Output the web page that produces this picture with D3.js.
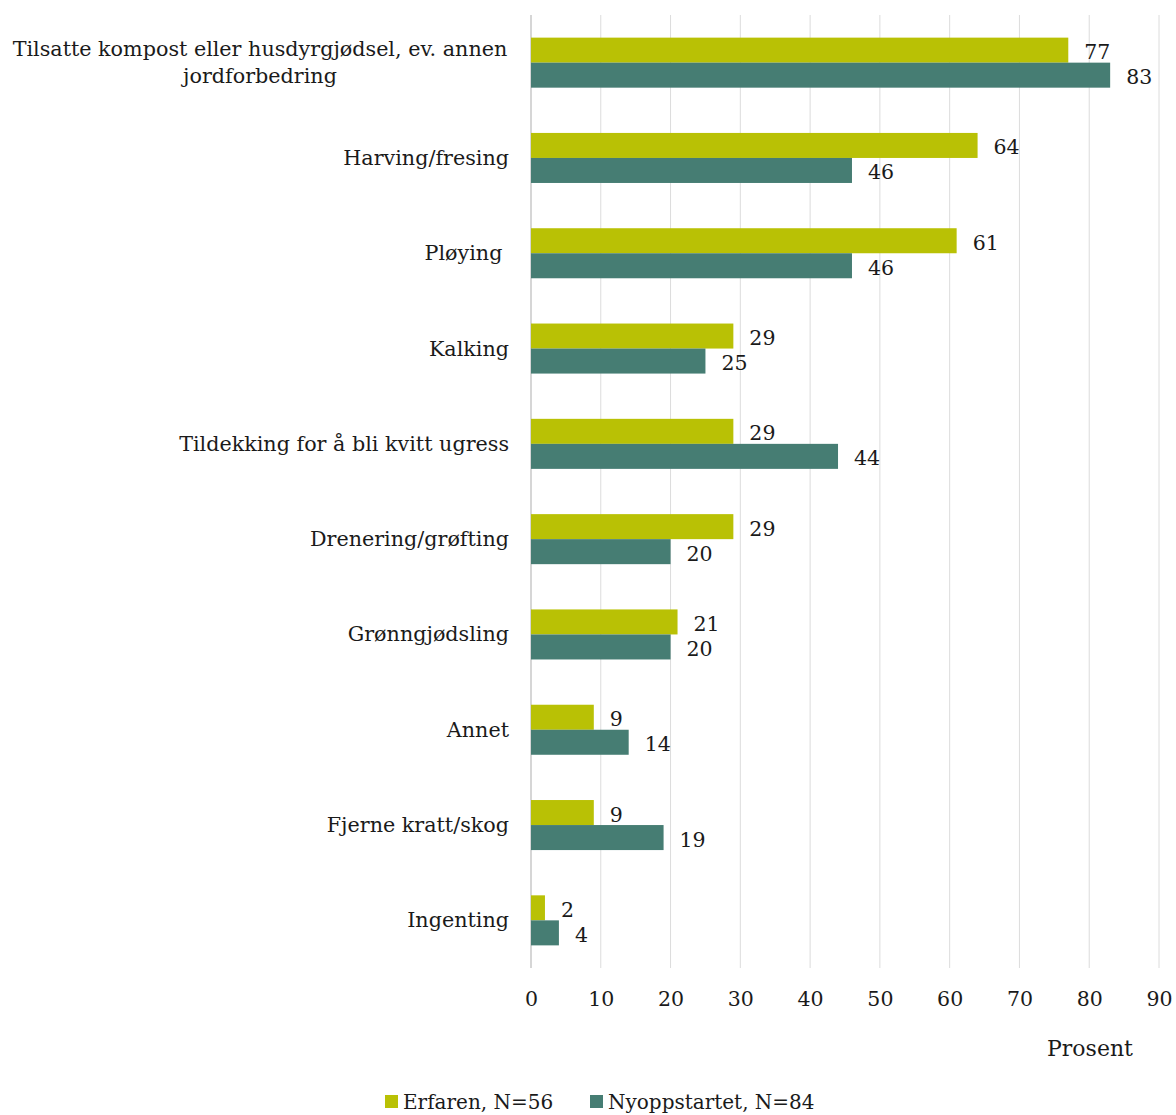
<!DOCTYPE html>
<html>
<head>
<meta charset="utf-8">
<script src="https://cdn.jsdelivr.net/npm/d3@7"></script>
<style>
  html, body { margin: 0; padding: 0; background: #fff; }
  svg { display: block; }
  text { font-family: "DejaVu Serif", "Liberation Serif", serif; fill: #1a1a1a; white-space: pre; }
</style>
</head>
<body>
<svg id="chart" width="1176" height="1115"></svg>
<script>
// Tiltak for jordforbedring, andel (prosent) per gruppe
const categories = [
  ["Tilsatte kompost eller husdyrgjødsel, ev. annen", "jordforbedring"],
  ["Harving/fresing"],
  ["Pløying "],
  ["Kalking"],
  ["Tildekking for å bli kvitt ugress"],
  ["Drenering/grøfting"],
  ["Grønngjødsling"],
  ["Annet"],
  ["Fjerne kratt/skog"],
  ["Ingenting"]
];
const seriesNames = ["Erfaren, N=56", "Nyoppstartet, N=84"];
const erfaren      = [77, 64, 61, 29, 29, 29, 21, 9, 9, 2];
const nyoppstartet = [83, 46, 46, 25, 44, 20, 20, 14, 19, 4];
const xTicks = [0, 10, 20, 30, 40, 50, 60, 70, 80, 90];
const colors = ["#b9c105", "#467d73"];
const axisTitle = "Prosent";

const svg = d3.select("#chart");
const plotLeft = 531, plotRight = 1159, plotTop = 15, plotBottom = 968;

const x = d3.scaleLinear().domain([0, 90]).range([plotLeft, plotRight]);
const y = d3.scaleBand().domain(d3.range(categories.length)).range([plotTop, plotBottom]).paddingInner(0.475).paddingOuter(0.2375);
const sub = d3.scaleBand().domain([0, 1]).range([0, y.bandwidth()]);

// vertical gridlines
svg.append("g").selectAll("line").data(xTicks).join("line")
  .attr("x1", d => x(d)).attr("x2", d => x(d))
  .attr("y1", plotTop).attr("y2", plotBottom)
  .attr("stroke", d => d === 0 ? "#c8c8c8" : "#dcdcdc").attr("stroke-width", d => d === 0 ? 1.5 : 1);

// x axis tick labels
const xAxis = d3.axisBottom(x).tickValues(xTicks).tickSize(0).tickPadding(0).tickFormat(d3.format("d"));
const gx = svg.append("g").attr("transform", `translate(0,${plotBottom + 38})`).call(xAxis);
gx.select(".domain").remove();
gx.selectAll("text").attr("font-size", 20.5).attr("dy", 0).style("font-family", "DejaVu Serif").attr("fill", "#1a1a1a");

const data = [erfaren, nyoppstartet];
data.forEach((vals, s) => {
  const g = svg.append("g");
  g.selectAll("rect").data(vals).join("rect")
    .attr("x", x(0))
    .attr("y", (d, i) => y(i) + sub(s))
    .attr("width", d => x(d) - x(0))
    .attr("height", sub.bandwidth())
    .attr("fill", colors[s]);
  g.selectAll("text").data(vals).join("text")
    .attr("x", d => x(d) + 16)
    .attr("y", (d, i) => y(i) + sub(s) + sub.bandwidth() / 2 + 9)
    .attr("font-size", 20.5)
    .text(d => d);
});

// category labels
const lg = svg.append("g");
categories.forEach((lines, i) => {
  const cy = y(i) + y.bandwidth() / 2;
  const t = lg.append("text").attr("text-anchor", "middle").attr("font-size", 20.7);
  const lh = 27;
  const cx = lines.length > 1 ? 260 : null;
  lines.forEach((ln, j) => {
    const ty = cy + (j - (lines.length - 1) / 2) * lh + 7;
    const ts = t.append("tspan").attr("y", ty).text(ln);
    if (lines.length > 1) ts.attr("x", cx);
  });
  if (lines.length === 1) t.attr("text-anchor", "end").selectAll("tspan").attr("x", 509);
});

// axis title
svg.append("text").attr("x", 1090).attr("y", 1056).attr("text-anchor", "middle").attr("font-size", 22).text(axisTitle);

// legend
const legX = [385, 590];
seriesNames.forEach((n, s) => {
  svg.append("rect").attr("x", legX[s]).attr("y", 1095).attr("width", 13).attr("height", 13).attr("fill", colors[s]);
  svg.append("text").attr("x", legX[s] + 18).attr("y", 1109).attr("font-size", 20).text(n);
});
</script>
</body>
</html>
